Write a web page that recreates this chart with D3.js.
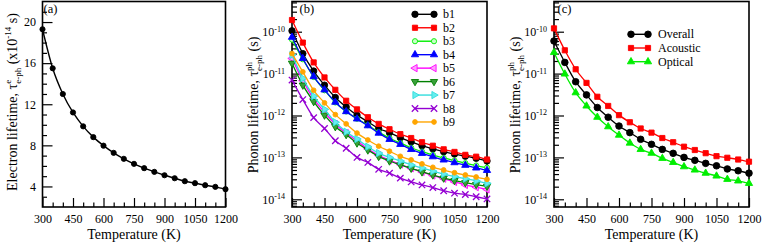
<!DOCTYPE html>
<html><head><meta charset="utf-8">
<script src="https://cdn.jsdelivr.net/npm/d3@7"></script>
<style>
body{margin:0;background:#fff}
svg{display:block}
text{font-family:"Liberation Serif","Times New Roman",serif;fill:#000}
</style>
</head><body>
<svg id="chart" width="763" height="245"></svg>
<script>
// ---------- DATA ----------
const temps = [300,350,400,450,500,550,600,650,700,750,800,850,900,950,1000,1050,1100,1150,1200];
const xTickValues = [300,450,600,750,900,1050,1200];
const yTicksA = [4,8,12,16,20];
const yTicksLog = [1e-14,1e-13,1e-12,1e-11,1e-10];

// (a) electron lifetime (x10^-14 s)
const electronLifetime = [19.3,15.5,13.0,11.2,9.85,8.8,7.97,7.27,6.69,6.2,5.78,5.42,5.09,4.8,4.51,4.32,4.12,3.96,3.73];

// (b) band-resolved phonon lifetime (s)
const bandNames = ["b1","b2","b3","b4","b5","b6","b7","b8","b9"];
const b1 = [1.05e-10,3.0e-11,1.15e-11,5.3e-12,2.7e-12,1.6e-12,1.02e-12,7.1e-13,4.9e-13,3.9e-13,2.95e-13,2.35e-13,1.9e-13,1.6e-13,1.37e-13,1.2e-13,1.07e-13,9.5e-14,8.2e-14];
const b2 = [1.9e-10,5.5e-11,1.85e-11,8.1e-12,4.1e-12,2.25e-12,1.4e-12,9.1e-13,6.3e-13,4.7e-13,3.6e-13,2.9e-13,2.3e-13,1.9e-13,1.56e-13,1.35e-13,1.15e-13,1.04e-13,8.9e-14];
const b3 = [6.5e-11,2.2e-11,8.3e-12,4.0e-12,2.05e-12,1.25e-12,8.4e-13,5.9e-13,4.0e-13,2.9e-13,2.2e-13,1.7e-13,1.38e-13,1.15e-13,9.7e-14,8.4e-14,7.3e-14,6.4e-14,5.7e-14];
const b4 = [7.4e-11,2.3e-11,8.5e-12,4.1e-12,2.08e-12,1.24e-12,8.3e-13,5.7e-13,3.8e-13,2.7e-13,2.05e-13,1.55e-13,1.25e-13,1.04e-13,8.7e-14,7.5e-14,6.5e-14,5.6e-14,4.9e-14];
const b5 = [2.3e-11,6.8e-12,2.5e-12,1.2e-12,6.2e-13,3.8e-13,2.45e-13,1.6e-13,1.12e-13,8.6e-14,6.8e-14,5.5e-14,4.5e-14,3.7e-14,3.1e-14,2.6e-14,2.2e-14,1.95e-14,1.72e-14];
const b6 = [1.77e-11,5.3e-12,2.15e-12,1.02e-12,5.4e-13,3.5e-13,2.2e-13,1.5e-13,1.05e-13,8.2e-14,6.6e-14,5.5e-14,4.5e-14,3.8e-14,3.2e-14,2.8e-14,2.5e-14,2.25e-14,2.04e-14];
const b7 = [2.8e-11,7.7e-12,2.9e-12,1.4e-12,6.9e-13,4.1e-13,2.75e-13,1.8e-13,1.27e-13,1.0e-13,8.2e-14,6.6e-14,5.6e-14,4.7e-14,4.0e-14,3.5e-14,3.1e-14,2.75e-14,2.4e-14];
const b8 = [7.0e-12,2.4e-12,8.9e-13,4.9e-13,2.5e-13,1.65e-13,1.0e-13,7.6e-14,5.2e-14,4.2e-14,3.2e-14,2.6e-14,2.2e-14,1.9e-14,1.6e-14,1.4e-14,1.3e-14,1.15e-14,1.02e-14];
const b9 = [3.0e-11,1.1e-11,4.0e-12,2.0e-12,1.05e-12,6.3e-13,3.8e-13,2.6e-13,1.85e-13,1.4e-13,1.06e-13,8.7e-14,7.0e-14,5.8e-14,5.0e-14,4.3e-14,3.8e-14,3.4e-14,3.0e-14];

// (c) overall / acoustic / optical (s)
const modeNames = ["Overall","Acoustic","Optical"];
const overall  = [6.0e-11,1.85e-11,6.4e-12,3.1e-12,1.55e-12,9.1e-13,5.6e-13,3.9e-13,2.7e-13,2.05e-13,1.55e-13,1.25e-13,1.0e-13,8.5e-14,7.2e-14,6.3e-14,5.3e-14,4.8e-14,4.2e-14];
const acoustic = [1.2e-10,3.6e-11,1.27e-11,6.0e-12,2.8e-12,1.69e-12,1.02e-12,6.9e-13,4.9e-13,3.9e-13,2.9e-13,2.3e-13,1.8e-13,1.5e-13,1.26e-13,1.07e-13,9.8e-14,8.9e-14,7.9e-14];
const optical  = [3.2e-11,9.8e-12,3.5e-12,1.69e-12,9.1e-13,5.4e-13,3.4e-13,2.2e-13,1.55e-13,1.26e-13,9.5e-14,7.6e-14,6.0e-14,5.0e-14,4.2e-14,3.6e-14,3.0e-14,2.75e-14,2.4e-14];

// ---------- STYLE ----------
const svg = d3.select("#chart");
const TOP = 1.5, BOTTOM = 207;

const bandStyles = [
  {color:"#000000", shape:"circle", size:3.2, fill:"#000000"},
  {color:"#ff0000", shape:"square", size:5.2, fill:"#ff0000"},
  {color:"#00ee00", shape:"circle", size:2.6, fill:"#c8ffc8"},
  {color:"#0000ff", shape:"up",     size:4.2, fill:"#0000ff"},
  {color:"#ff00ff", shape:"left",   size:4.2, fill:"#ff9cff"},
  {color:"#008000", shape:"down",   size:4.2, fill:"#3aa03a"},
  {color:"#33dddd", shape:"right",  size:4.2, fill:"#66eeee"},
  {color:"#9400d3", shape:"x",      size:3.2, fill:"none"},
  {color:"#ffa500", shape:"circle", size:2.4, fill:"#ffa500"}
];
const modeStyles = [
  {color:"#000000", shape:"circle", size:3.3, fill:"#000000"},
  {color:"#ff0000", shape:"square", size:5.2, fill:"#ff0000"},
  {color:"#00ee00", shape:"up",     size:4.2, fill:"#00ee00"}
];

function markerPath(shape, x, y, s) {
  const p = d3.path();
  if (shape === "square") { p.rect(x - s/2, y - s/2, s, s); return p.toString(); }
  if (shape === "circle") { p.moveTo(x + s, y); p.arc(x, y, s, 0, 2*Math.PI); p.closePath(); return p.toString(); }
  if (shape === "x") { p.moveTo(x-s,y-s); p.lineTo(x+s,y+s); p.moveTo(x-s,y+s); p.lineTo(x+s,y-s); return p.toString(); }
  const ang = {up:-90, down:90, left:180, right:0}[shape] * Math.PI/180;
  for (let k = 0; k < 3; k++) {
    const a = ang + k*2*Math.PI/3;
    const px = x + s*Math.cos(a), py = y + s*Math.sin(a);
    if (k === 0) p.moveTo(px, py); else p.lineTo(px, py);
  }
  p.closePath();
  return p.toString();
}

function drawSeries(g, x, y, values, st, lw) {
  const pts = temps.map((t, i) => [x(t), y(values[i])]);
  g.append("path").attr("d", d3.line().curve(d3.curveMonotoneX)(pts))
    .attr("fill","none").attr("stroke",st.color).attr("stroke-width",lw);
  g.selectAll(null).data(pts).join("path")
    .attr("d", d => markerPath(st.shape, d[0], d[1], st.size))
    .attr("fill", st.shape === "x" ? "none" : st.fill)
    .attr("stroke", st.color).attr("stroke-width", st.shape === "x" ? 1.3 : 0.9);
}

function styleAxis(ax) {
  ax.select(".domain").remove();
  ax.selectAll(".tick line").attr("stroke","#000").attr("stroke-width",1.2);
  ax.selectAll(".tick text").attr("font-size","12px").attr("fill","#000")
    .style("font-family",'"Liberation Serif","Times New Roman",serif');
}

function xAxes(g, x) {
  const minor = temps.filter(t => !xTickValues.includes(t));
  const a1 = g.append("g").attr("transform",`translate(0,${BOTTOM})`)
    .call(d3.axisBottom(x).tickValues(minor).tickSize(-4.5).tickFormat(""));
  styleAxis(a1);
  const a2 = g.append("g").attr("transform",`translate(0,${BOTTOM})`)
    .call(d3.axisBottom(x).tickValues(xTickValues).tickSize(-9).tickPadding(7.5).tickFormat(d3.format("d")));
  styleAxis(a2);
}

function frame(g, x0, x1) {
  g.append("rect").attr("x",x0).attr("y",TOP).attr("width",x1-x0).attr("height",BOTTOM-TOP)
    .attr("fill","none").attr("stroke","#000").attr("stroke-width",1.6);
}

function xLabel(g, x0, x1) {
  g.append("text").attr("x",(x0+x1)/2).attr("y",238.5).attr("text-anchor","middle")
    .attr("font-size","14px").text("Temperature (K)");
}

function panelLabel(g, x, txt) {
  g.append("text").attr("x",x).attr("y",13).attr("font-size","12.5px").text(txt);
}

// ---------- PANEL (a) ----------
{
  const x0 = 42.5, x1 = 225.5;
  const g = svg.append("g");
  const x = d3.scaleLinear([300,1200],[x0,x1]);
  const y = d3.scaleLinear([2,22],[BOTTOM,TOP]);
  const minorY = d3.range(3,22,1).filter(v => !yTicksA.includes(v));
  styleAxis(g.append("g").attr("transform",`translate(${x0},0)`)
    .call(d3.axisLeft(y).tickValues(minorY).tickSize(-4.5).tickFormat("")));
  styleAxis(g.append("g").attr("transform",`translate(${x0},0)`)
    .call(d3.axisLeft(y).tickValues(yTicksA).tickSize(-10).tickPadding(6.5).tickFormat(d3.format("d"))));
  xAxes(g, x);
  drawSeries(g, x, y, electronLifetime, {color:"#000", shape:"circle", size:2.6, fill:"#000"}, 1.4);
  frame(g, x0, x1);
  xLabel(g, x0, x1);
  panelLabel(g, 43.5, "(a)");
  const t = g.append("text").attr("transform","translate(17,102) rotate(-90)")
    .attr("text-anchor","middle").attr("font-size","14px");
  t.append("tspan").text("Electron lifetime, τ");
  t.append("tspan").attr("font-size","9px").attr("dy",-6).text("e");
  t.append("tspan").attr("font-size","9px").attr("dx",-4).attr("dy",10).text("e-ph");
  t.append("tspan").attr("dy",-4).text(" (x10");
  t.append("tspan").attr("font-size","9px").attr("dy",-6).text("-14");
  t.append("tspan").attr("dy",6).text(" s)");
}

// ---------- log panels ----------
function logPanel(x0, x1, label) {
  const g = svg.append("g");
  const x = d3.scaleLinear([300,1200],[x0,x1]);
  const y = d3.scaleLog([Math.pow(10,-14.184), Math.pow(10,-9.279)],[BOTTOM,TOP]);
  const minorY = y.ticks().filter(v => !yTicksLog.some(m => Math.abs(m - v)/m < 1e-6));
  styleAxis(g.append("g").attr("transform",`translate(${x0},0)`)
    .call(d3.axisLeft(y).tickValues(minorY).tickSize(-5).tickFormat("")));
  const ax = g.append("g").attr("transform",`translate(${x0},0)`)
    .call(d3.axisLeft(y).tickValues(yTicksLog).tickSize(-10).tickPadding(7).tickFormat(""));
  styleAxis(ax);
  ax.selectAll(".tick text").each(function(d) {
    const el = d3.select(this);
    el.append("tspan").text("10");
    el.append("tspan").attr("font-size","8px").attr("dy","-0.55em").text(String(Math.round(Math.log10(d))));
  });
  xAxes(g, x);
  frame(g, x0, x1);
  xLabel(g, x0, x1);
  panelLabel(g, x0 + 2.5 + (label === "(b)" ? 5 : 1), label);
  const t = g.append("text").attr("transform",`translate(${x0-34},105) rotate(-90)`)
    .attr("text-anchor","middle").attr("font-size","14px");
  t.append("tspan").text("Phonon lifetime, τ");
  t.append("tspan").attr("font-size","9px").attr("dy",-6).text("ph");
  t.append("tspan").attr("font-size","9px").attr("dx",-9).attr("dy",10).text("e-ph");
  t.append("tspan").attr("dy",-4).text(" (s)");
  return {g, x, y};
}

function legend(g, names, styles, lx0, lx1, tx, y0, dy) {
  names.forEach((n, i) => {
    const yy = y0 + i*dy, st = styles[i];
    g.append("line").attr("x1",lx0).attr("x2",lx1).attr("y1",yy).attr("y2",yy)
      .attr("stroke",st.color).attr("stroke-width",1.4);
    [lx0, lx1].forEach(px => g.append("path").attr("d", markerPath(st.shape, px, yy, st.size))
      .attr("fill", st.shape === "x" ? "none" : st.fill).attr("stroke", st.color)
      .attr("stroke-width", st.shape === "x" ? 1.3 : 0.9));
    g.append("text").attr("x",tx).attr("y",yy+4).attr("font-size","12px").text(n);
  });
}

// ---------- PANEL (b) ----------
{
  const {g, x, y} = logPanel(292, 487, "(b)");
  const bands = [b1,b2,b3,b4,b5,b6,b7,b8,b9];
  bands.forEach((vals, i) => drawSeries(g, x, y, vals, bandStyles[i], 1.3));
  legend(g, bandNames, bandStyles, 415, 434, 443, 14.3, 13.46);
}

// ---------- PANEL (c) ----------
{
  const {g, x, y} = logPanel(554, 749, "(c)");
  [overall, acoustic, optical].forEach((vals, i) => drawSeries(g, x, y, vals, modeStyles[i], 1.3));
  legend(g, modeNames, modeStyles, 631, 648, 658, 34.3, 13.7);
}
</script>
</body></html>
